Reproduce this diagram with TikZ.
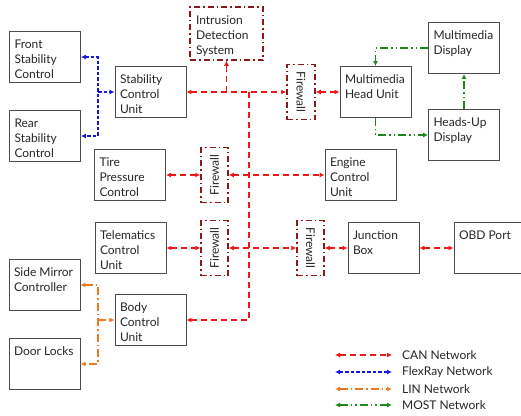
\documentclass[tikz,border=0pt]{standalone}
\usepackage{fontspec}
\setmainfont{Lato}
\usetikzlibrary{arrows.meta}

\definecolor{canred}{RGB}{238,22,22}
\definecolor{flexblue}{RGB}{20,20,235}
\definecolor{linorange}{RGB}{240,120,35}
\definecolor{mostgreen}{RGB}{30,135,30}
\definecolor{fwred}{RGB}{140,25,25}

\newcommand{\unittext}[1]{\parbox[c][41pt][t]{61pt}{\raggedright\vspace*{3pt}#1}}

\begin{document}
\begin{tikzpicture}[x=1pt,y=-1pt,>={Latex[length=5pt,width=5pt]},
    font=\fontsize{12}{15}\selectfont,text=black!85,
    unit/.style={draw=black!70,line width=0.9pt,minimum width=71pt,minimum height=51pt,inner sep=0pt},
    guard/.style={draw=fwred,line width=1.5pt,dash pattern=on 6pt off 3pt on 1.5pt off 3pt,
                  minimum width=27pt,minimum height=55pt,inner sep=0pt},
    can/.style={<->,canred,line width=1.5pt,dash pattern=on 6pt off 4pt},
    flexray/.style={<->,flexblue,line width=1.5pt,dash pattern=on 3.5pt off 2pt},
    lin/.style={<->,linorange,line width=1.5pt,dash pattern=on 8pt off 3pt on 1.5pt off 3pt},
    most/.style={<->,mostgreen,line width=1.5pt,dash pattern=on 8pt off 3pt on 1.5pt off 3pt on 1.5pt off 3pt},
    legend/.style={anchor=west,inner sep=0pt}]

  \useasboundingbox (0,0) rectangle (521,415);

  % ECUs
  \node[unit] (front) at (45,57)   {\unittext{Front\\Stability\\Control}};
  \node[unit] (rear)  at (45,136)  {\unittext{Rear\\Stability\\Control}};
  \node[unit] (scu)   at (150.5,92) {\unittext{Stability\\Control\\Unit}};
  \node[unit] (tire)  at (130,175)   {\unittext{Tire\\Pressure\\Control}};
  \node[unit] (tcu)   at (130.5,248) {\unittext{Telematics\\Control\\Unit}};
  \node[unit] (smc)   at (44.5,285) {\unittext{Side Mirror\\Controller}};
  \node[unit] (bcu)   at (150.5,320) {\unittext{Body\\Control\\Unit}};
  \node[unit] (dl)    at (44.5,364) {\unittext{Door Locks}};
  \node[unit] (mhu)   at (375.5,92) {\unittext{Multimedia\\Head Unit}};
  \node[unit] (md)    at (464,48)    {\unittext{Multimedia\\Display}};
  \node[unit] (hud)   at (464,135)   {\unittext{Heads-Up\\Display}};
  \node[unit] (ecu)   at (360.5,175) {\unittext{Engine\\Control\\Unit}};
  \node[unit] (jb)    at (383.5,248) {\unittext{Junction\\Box}};
  \node[unit] (obd)   at (489.5,248) {\unittext{OBD Port}};

  % IDS and firewalls
  \node[guard,minimum width=73pt,minimum height=53pt] (ids) at (226.5,33.5)
       {\unittext{Intrusion\\Detection\\System}};
  \node[guard] (fw1) at (214.5,175)  {\rotatebox{90}{Firewall}};
  \node[guard,minimum width=28pt] (fw2) at (301,92) {\rotatebox{-90}{Firewall}};
  \node[guard] (fw3) at (214.5,248)  {\rotatebox{90}{Firewall}};
  \node[guard] (fw4) at (310.5,248)  {\rotatebox{-90}{Firewall}};

  % CAN
  \coordinate (bustop) at (249,92);
  \coordinate (idsjoin) at (ids.south |- scu.east);
  \draw[can] (scu) -- (fw2);
  \draw[can] (fw2) -- (mhu);
  \draw[can,->] (idsjoin) -- (ids.south);
  \draw[can,->] (bustop) |- (bcu.east);
  \draw[can] (tire) -- (fw1);
  \draw[can] (fw1) -- (ecu);
  \draw[can] (tcu) -- (fw3);
  \draw[can] (fw3) -- (fw4);
  \draw[can] (fw4) -- (jb);
  \draw[can] (jb) -- (obd);

  % FlexRay
  \coordinate (fxjoin) at (98,92);
  \draw[flexray] (front.east) -| (fxjoin) |- (rear.east);
  \draw[flexray,->] (fxjoin) -- (scu.west);

  % LIN
  \coordinate (linjoin) at (98,320);
  \draw[lin] (smc.east) -| (linjoin) |- (dl.east);
  \draw[lin,->] (linjoin) -- (bcu.west);

  % MOST
  \draw[most,->] (md.west) -| (mhu.north);
  \draw[most,->] (mhu.south) |- (hud.west);
  \draw[most,->] (hud.north) -- (md.south);

  % legend
  \node[legend] (canlbl)  at (402,355) {CAN Network};
  \node[legend] (flexlbl) at (402,372) {FlexRay Network};
  \node[legend] (linlbl)  at (402,389) {LIN Network};
  \node[legend] (mostlbl) at (402,405) {MOST Network};
  \coordinate (canstart)  at (335,355);
  \coordinate (flexstart) at (335,372);
  \coordinate (linstart)  at (335,389);
  \coordinate (moststart) at (335,405);
  \draw[can,shorten >=10pt]     (canstart)  -- (canlbl.west);
  \draw[flexray,shorten >=10pt] (flexstart) -- (flexlbl.west);
  \draw[lin,shorten >=10pt]     (linstart)  -- (linlbl.west);
  \draw[most,shorten >=10pt]    (moststart) -- (mostlbl.west);
\end{tikzpicture}
\end{document}
